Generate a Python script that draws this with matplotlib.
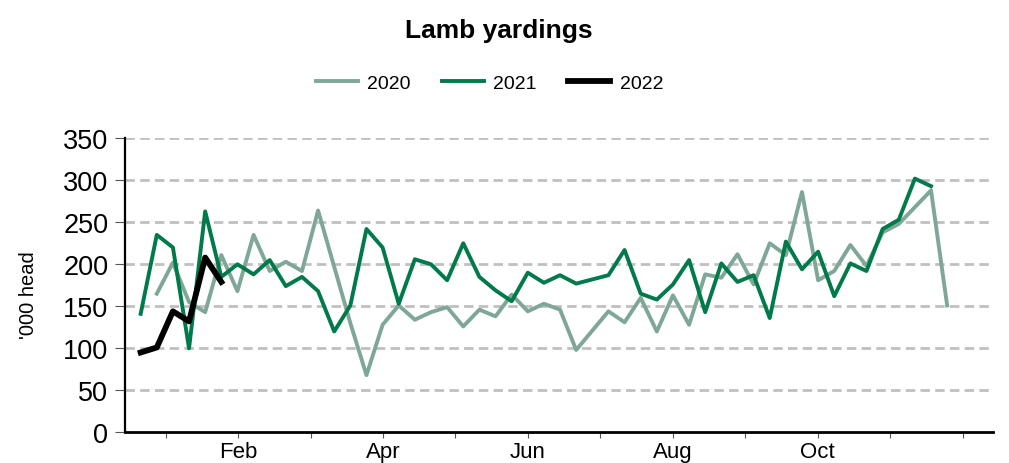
import numpy as np
import matplotlib
matplotlib.use("Agg")
import matplotlib.pyplot as plt

plt.rcParams['font.family'] = ['Liberation Sans', 'DejaVu Sans']

# weekly yardings, '000 head
y2020 = [165, 202, 155, 143, 211, 168, 235, 192, 203, 192,
         264, 197, 130, 68, 128, 151, 134, 143, 149, 126,
         146, 138, 164, 144, 153, 146, 98, 121, 144, 131,
         160, 120, 163, 128, 188, 184, 212, 176, 225, 211,
         286, 181, 192, 223, 198, 238, 248, 268, 288, 151]
y2021 = [141, 235, 220, 100, 263, 185, 200, 188, 205, 174,
         185, 168, 120, 151, 242, 220, 153, 206, 200, 181,
         225, 185, 169, 156, 190, 178, 187, 177, 182, 187,
         217, 165, 158, 176, 205, 143, 201, 179, 187, 136,
         227, 194, 215, 162, 201, 192, 242, 253, 302, 293]
y2022 = [95, 101, 144, 132, 208, 179]

w2020 = np.arange(1, len(y2020) + 1)
w2021 = np.arange(len(y2021))
w2022 = np.arange(len(y2022))

months = ['Jan', 'Feb', 'Mar', 'Apr', 'May', 'Jun',
          'Jul', 'Aug', 'Sep', 'Oct', 'Nov', 'Dec']
shown = ['Feb', 'Apr', 'Jun', 'Aug', 'Oct']
month_pos = 1.55 + 4.492 * np.arange(12)
month_labels = [m if m in shown else '' for m in months]

fig = plt.figure(figsize=(10.09, 4.64), dpi=100)
ax = fig.add_axes([0.1239, 0.0662, 0.8602, 0.6336])

ax.plot(w2020, y2020, color='#7fa797', lw=2.8, label='2020', zorder=3)
ax.plot(w2021, y2021, color='#007a4b', lw=2.8, label='2021', zorder=4)
ax.plot(w2022, y2022, color='black', lw=4.2, label='2022', zorder=5)

ax.set_ylim(0, 350)
ax.set_xlim(-0.97, 52.84)
ax.set_yticks(np.arange(0, 351, 50))
ax.set_xticks(month_pos)
ax.set_xticklabels(month_labels)

for v in range(50, 351, 50):
    ax.axhline(v, color='#c0c0c0', lw=2.0, dashes=(3.4, 1.9), zorder=1)

for s in ['top', 'right']:
    ax.spines[s].set_visible(False)
ax.spines['left'].set_linewidth(1.6)
ax.spines['bottom'].set_linewidth(2.0)

ax.tick_params(axis='y', labelsize=19.5, length=7, width=0.8, color='#555555', pad=5)
ax.tick_params(axis='x', labelsize=16, length=4, width=0.8, color='#555555', pad=2)

ax.set_ylabel("'000 head", fontsize=14.5)
ax.yaxis.set_label_coords(-0.1, 0.47)

fig.text(0.494, 0.933, 'Lamb yardings', ha='center', va='center',
         fontsize=19, fontweight='bold')
fig.legend(loc='center', bbox_to_anchor=(0.485, 0.819), ncol=3, frameon=False,
           fontsize=14, handlelength=2.15, handletextpad=0.5, columnspacing=1.6)

fig.savefig('out.png', dpi=100)
